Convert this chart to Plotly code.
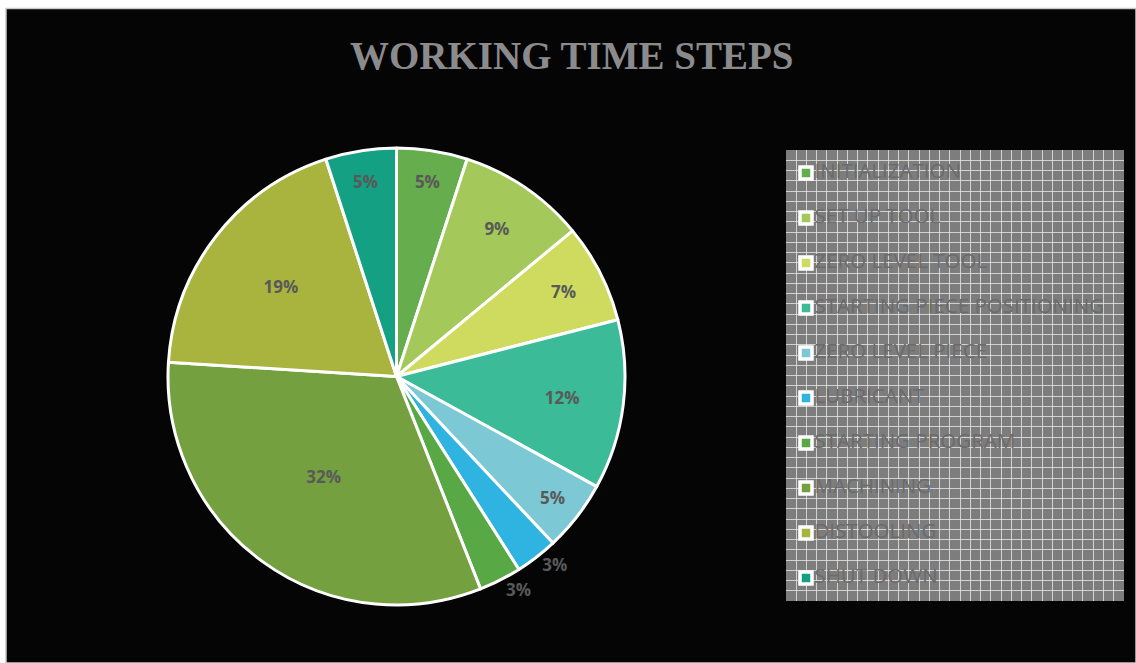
import plotly.graph_objects as go

W, H = 1136, 663

steps = ["INITIALIZATION", "SET UP TOOL", "ZERO LEVEL TOOL", "STARTING PIECE POSITIONING",
         "ZERO LEVEL PIECE", "LUBRICANT", "STARTING PROGRAM", "MACHINING", "DISTOOLING", "SHUT DOWN"]
shares = [5, 9, 7, 12, 5, 3, 3, 32, 19, 5]
colors = ["#66ad4e", "#a4c95a", "#cfdb5e", "#3bbb97", "#7cc8d5", "#2fb3e1",
          "#58a845", "#74a040", "#a9b43f", "#14a082"]
text_pos = ["inside", "inside", "inside", "inside", "inside", "outside", "outside",
            "inside", "inside", "inside"]

def px_x(p):
    return p / W

def px_y(p):
    return 1 - p / H

fig = go.Figure()

fig.add_trace(go.Pie(
    labels=steps, values=shares, sort=False, direction="clockwise", rotation=0,
    marker=dict(colors=colors, line=dict(color="white", width=3)),
    texttemplate="%{percent:.0%}", textposition=text_pos,
    insidetextorientation="horizontal",
    textfont=dict(family="Open Sans", size=17, color="#595959", weight="bold"),
    domain=dict(x=[px_x(168), px_x(625)], y=[px_y(605), px_y(148)]),
    showlegend=False, hoverinfo="label+percent",
))

# legend drawn inside a grid panel (cartesian axes in pixel units)
lx0, lx1, ly0, ly1 = 786, 1124, 150, 601
first_row, row_gap = 173, 45
leg_y = [first_row + i * row_gap for i in range(len(steps))]
leg_x = [806] * len(steps)
fig.add_trace(go.Scatter(
    x=leg_x, y=leg_y, mode="markers+text", text=steps, textposition="middle right",
    marker=dict(symbol="square", size=12, color=colors, line=dict(color="white", width=3.5)),
    textfont=dict(family="Open Sans", size=20.5, color="#6b6b6b"),
    showlegend=False, hoverinfo="skip", cliponaxis=False,
))

fig.update_layout(
    width=W, height=H,
    margin=dict(l=0, r=0, t=0, b=0),
    paper_bgcolor="white",
    plot_bgcolor="#7d7d7d",
    xaxis=dict(domain=[px_x(lx0), px_x(lx1)], range=[lx0, lx1], tick0=lx0, dtick=10.24,
               showgrid=True, gridcolor="rgba(230,230,230,0.8)", gridwidth=1,
               zeroline=False, showticklabels=False, ticks="", showline=False, fixedrange=True),
    yaxis=dict(domain=[px_y(ly1), px_y(ly0)], range=[ly1, ly0], tick0=ly0, dtick=10.25,
               showgrid=True, gridcolor="rgba(230,230,230,0.8)", gridwidth=1,
               zeroline=False, showticklabels=False, ticks="", showline=False, fixedrange=True),
    shapes=[dict(type="rect", xref="paper", yref="paper", layer="below",
                 x0=px_x(6), x1=1.0, y0=0.0, y1=px_y(8.5),
                 fillcolor="#050505", line=dict(color="#c8c8c8", width=1.5)),
            dict(type="rect", xref="paper", yref="paper", layer="below",
                 x0=px_x(lx0), x1=px_x(lx1), y0=px_y(ly1), y1=px_y(ly0),
                 fillcolor="#7d7d7d", line=dict(width=0))],
    annotations=[dict(text="<b>WORKING TIME STEPS</b>", xref="paper", yref="paper",
                      x=px_x(572), y=px_y(55), xanchor="center", yanchor="middle",
                      showarrow=False,
                      font=dict(family="Liberation Serif", size=39, color="#8b8b8d"))],
)

fig.write_html("out.html")
